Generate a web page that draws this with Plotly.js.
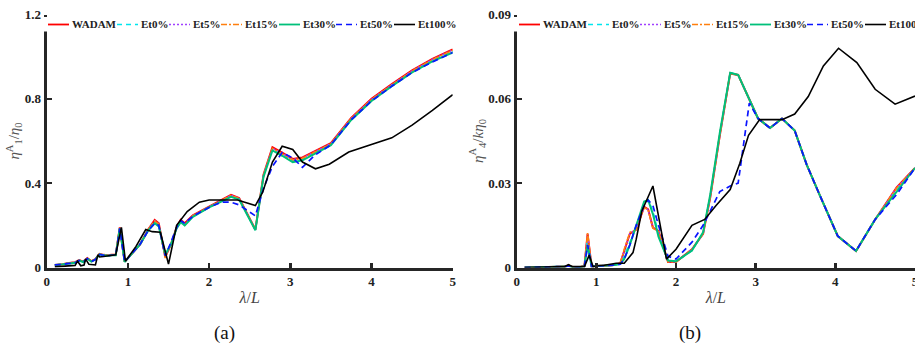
<!DOCTYPE html>
<html>
<head>
<meta charset="utf-8">
<script src="https://cdn.plot.ly/plotly-3.0.1.min.js"></script>
<style>html,body{margin:0;padding:0;background:#fff;}#chart{width:915px;height:352px;}</style>
</head>
<body>
<div id="chart"></div>
<script>
// ---------- data (a) heave-like response eta1A/eta0 ----------
const xA = [0.1,0.15,0.2,0.25,0.3,0.35,0.4,0.45,0.5,0.55,0.6,0.65,0.7,0.75,0.8,0.85,0.9,0.96,1.05,1.15,1.25,1.33,1.38,1.46,1.53,1.6,1.65,1.7,1.8,2.0,2.15,2.27,2.37,2.57,2.67,2.78,2.9,3.03,3.15,3.3,3.5,3.75,4.0,4.25,4.5,4.75,5.0];
const wadamA = [0.012,0.013,0.016,0.02,0.022,0.025,0.035,0.028,0.045,0.03,0.04,0.065,0.06,0.058,0.06,0.06,0.19,0.028,0.066,0.11,0.18,0.225,0.21,0.05,0.11,0.19,0.226,0.21,0.248,0.29,0.32,0.345,0.33,0.18,0.44,0.57,0.545,0.515,0.522,0.55,0.59,0.71,0.8,0.87,0.935,0.99,1.035];
const et0A   = [0.012,0.012,0.015,0.019,0.021,0.023,0.034,0.027,0.043,0.029,0.039,0.063,0.059,0.057,0.059,0.059,0.187,0.027,0.066,0.11,0.177,0.215,0.2,0.058,0.11,0.187,0.218,0.205,0.242,0.287,0.315,0.338,0.325,0.178,0.435,0.56,0.535,0.505,0.512,0.543,0.583,0.703,0.793,0.863,0.928,0.982,1.025];
const et5A   = [0.012,0.013,0.016,0.02,0.022,0.025,0.035,0.028,0.045,0.03,0.04,0.065,0.06,0.058,0.06,0.06,0.19,0.028,0.066,0.11,0.18,0.222,0.208,0.05,0.11,0.19,0.224,0.208,0.246,0.289,0.318,0.343,0.328,0.18,0.438,0.566,0.542,0.512,0.52,0.548,0.588,0.708,0.798,0.868,0.933,0.988,1.032];
const et15A  = [0.012,0.013,0.016,0.02,0.022,0.025,0.035,0.028,0.045,0.03,0.04,0.065,0.06,0.058,0.06,0.06,0.19,0.028,0.066,0.11,0.18,0.22,0.205,0.045,0.11,0.19,0.22,0.2,0.245,0.288,0.317,0.342,0.327,0.18,0.437,0.565,0.54,0.51,0.518,0.546,0.586,0.706,0.796,0.866,0.931,0.986,1.03];
const et30A  = [0.012,0.012,0.015,0.018,0.02,0.022,0.033,0.026,0.042,0.028,0.038,0.062,0.058,0.056,0.058,0.058,0.185,0.027,0.066,0.11,0.175,0.21,0.195,0.06,0.11,0.185,0.215,0.2,0.24,0.285,0.312,0.335,0.322,0.177,0.43,0.555,0.53,0.5,0.508,0.54,0.58,0.7,0.79,0.86,0.925,0.978,1.02];
const et50A  = [0.012,0.012,0.015,0.018,0.02,0.022,0.033,0.026,0.042,0.028,0.038,0.062,0.058,0.056,0.058,0.058,0.185,0.027,0.066,0.11,0.175,0.21,0.2,0.055,0.12,0.19,0.222,0.21,0.243,0.285,0.31,0.31,0.297,0.245,0.375,0.48,0.545,0.52,0.475,0.532,0.582,0.7,0.79,0.86,0.925,0.975,1.02];
const x100A  = [0.1,0.2,0.3,0.35,0.38,0.42,0.46,0.48,0.52,0.6,0.63,0.65,0.7,0.8,0.85,0.92,0.97,1.1,1.22,1.3,1.4,1.5,1.6,1.73,1.88,2.0,2.2,2.35,2.57,2.66,2.78,2.9,3.03,3.15,3.31,3.48,3.72,4.0,4.25,4.5,4.75,5.0];
const et100A = [0.003,0.005,0.008,0.01,0.03,0.008,0.012,0.04,0.015,0.012,0.06,0.05,0.052,0.055,0.06,0.19,0.03,0.1,0.18,0.17,0.167,0.016,0.2,0.265,0.31,0.32,0.32,0.32,0.294,0.357,0.5,0.575,0.56,0.5,0.468,0.49,0.548,0.582,0.615,0.675,0.745,0.82];

// ---------- data (b) pitch-like response eta4A/(k eta0) ----------
const xB = [0.1,0.2,0.3,0.4,0.5,0.6,0.65,0.7,0.8,0.85,0.89,0.94,1.0,1.1,1.2,1.3,1.35,1.42,1.5,1.6,1.65,1.71,1.78,1.9,2.0,2.1,2.2,2.34,2.43,2.55,2.68,2.78,2.92,3.03,3.18,3.33,3.49,3.64,3.8,4.03,4.26,4.5,4.77,5.0];
const wadamB = [0,0,0,0.0002,0.0003,0.0003,0.0008,0.0002,0.0002,0.0005,0.012,0.0004,0.0005,0.0006,0.0008,0.0015,0.006,0.012,0.0135,0.0216,0.0207,0.0142,0.013,0.002,0.002,0.0042,0.0065,0.012,0.025,0.047,0.069,0.0685,0.06,0.053,0.0496,0.053,0.0487,0.0366,0.026,0.0112,0.0059,0.0171,0.0285,0.0354];
const et0B   = [0,0,0,0.0002,0.0003,0.0003,0.0007,0.0002,0.0002,0.0004,0.011,0.0004,0.0005,0.0006,0.0008,0.0013,0.004,0.009,0.0145,0.023,0.024,0.02,0.012,0.0024,0.0021,0.004,0.006,0.0123,0.0255,0.0475,0.0693,0.0685,0.06,0.053,0.0496,0.053,0.0487,0.0366,0.026,0.0112,0.0059,0.0171,0.0278,0.0354];
const et5B   = [0,0,0,0.0002,0.0003,0.0003,0.0008,0.0002,0.0002,0.0005,0.012,0.0004,0.0005,0.0006,0.0008,0.0015,0.006,0.012,0.0135,0.0215,0.0206,0.0142,0.013,0.002,0.002,0.0042,0.0065,0.012,0.025,0.047,0.069,0.0685,0.06,0.053,0.0496,0.053,0.0487,0.0366,0.026,0.0112,0.0059,0.0171,0.0284,0.0354];
const et15B  = [0,0,0,0.0002,0.0003,0.0003,0.0009,0.0002,0.0002,0.0005,0.0122,0.0004,0.0005,0.0006,0.0008,0.0015,0.0065,0.0125,0.0135,0.0214,0.0205,0.014,0.0128,0.002,0.002,0.0042,0.0065,0.012,0.025,0.047,0.069,0.0685,0.06,0.053,0.0496,0.053,0.0487,0.0366,0.026,0.0112,0.0059,0.0171,0.0283,0.0354];
const et30B  = [0,0,0,0.0002,0.0003,0.0003,0.0006,0.0002,0.0002,0.0004,0.008,0.0004,0.0005,0.0006,0.0008,0.0012,0.003,0.008,0.015,0.0235,0.024,0.019,0.011,0.0025,0.0022,0.004,0.006,0.0125,0.026,0.048,0.0693,0.0685,0.06,0.053,0.0496,0.053,0.0487,0.0366,0.026,0.0112,0.0059,0.0171,0.027,0.0354];
const et50B  = [0,0,0,0.0002,0.0003,0.0003,0.0006,0.0002,0.0002,0.0004,0.008,0.0004,0.0005,0.0006,0.0008,0.0012,0.003,0.008,0.015,0.022,0.024,0.022,0.015,0.004,0.003,0.006,0.009,0.015,0.02,0.027,0.029,0.03,0.0585,0.053,0.0496,0.053,0.0487,0.0366,0.026,0.0112,0.0059,0.0171,0.026,0.0354];
const x100B  = [0.1,0.3,0.5,0.6,0.65,0.7,0.85,0.91,0.96,1.0,1.1,1.25,1.35,1.46,1.5,1.57,1.71,1.88,2.0,2.2,2.36,2.5,2.68,2.8,2.91,3.05,3.33,3.49,3.66,3.85,4.04,4.27,4.5,4.75,5.0];
const et100B = [0,0.0002,0.0002,0.0003,0.001,0.0003,0.0003,0.0044,0.0002,0.0006,0.0008,0.0015,0.0015,0.0053,0.01,0.02,0.029,0.003,0.0065,0.015,0.0171,0.022,0.0277,0.037,0.047,0.0526,0.0526,0.0546,0.0608,0.0717,0.078,0.0729,0.0634,0.0581,0.061];

// ---------- series labels & tick labels ----------
const seriesNames = ['WADAM','Et0%','Et5%','Et15%','Et30%','Et50%','Et100%'];
const xTickVals = [0,1,2,3,4,5];
const xTickText = ['0','1','2','3','4','5'];
const yTickValsA = [0,0.4,0.8,1.2];
const yTickTextA = ['0','0.4','0.8','1.2'];
const yTickValsB = [0,0.03,0.06,0.09];
const yTickTextB = ['0','0.03','0.06','0.09'];
const panelLabels = ['(a)','(b)'];

// ---------- styles ----------
const colors = ['#ff0000','#00e5ee','#a040ff','#ff7f0e','#00c07a','#0a14ff','#000000'];
const dashes = ['solid','5px,4px','2px,2px','6px,2px,2px,2px','solid','6px,4px','solid'];
const widths = [2,1.6,1.4,1.6,2,1.7,1.6];

const W = 915, H = 352;
const px = v => v / W, py = v => 1 - v / H;
const bold = arr => arr.map(t => '<b>' + t + '</b>');

const setA = [[xA,wadamA],[xA,et0A],[xA,et5A],[xA,et15A],[xA,et30A],[xA,et50A],[x100A,et100A]];
const setB = [[xB,wadamB],[xB,et0B],[xB,et5B],[xB,et15B],[xB,et30B],[xB,et50B],[x100B,et100B]];

const traces = [];
setA.forEach((s,i)=>traces.push({x:s[0],y:s[1],type:'scatter',mode:'lines',name:seriesNames[i],
  line:{color:colors[i],width:widths[i],dash:dashes[i]},xaxis:'x',yaxis:'y',showlegend:false}));
setB.forEach((s,i)=>traces.push({x:s[0],y:s[1],type:'scatter',mode:'lines',name:seriesNames[i],
  line:{color:colors[i],width:widths[i],dash:dashes[i]},xaxis:'x2',yaxis:'y2',showlegend:false}));

const serif = 'Liberation Serif, Times New Roman, serif';
const axisCommon = {
  showline:true, linecolor:'#262626', linewidth:3, ticks:'inside', ticklen:5, tickwidth:2.5,
  tickcolor:'#262626', showgrid:false, zeroline:false, tickmode:'array', ticklabeloverflow:'allow',
  tickfont:{family:serif, size:13, color:'#222'}
};
const yDom = [1-267.5/H, 1-14.5/H];

// custom horizontal legends (one per panel)
const shapes = [], annotations = [];
const legendOffsets = [0,69,121,173,231,288,346];
[48, 519].forEach((base,pi)=>{
  shapes.push({type:'rect',xref:'paper',yref:'paper',x0:px(base-5),x1:px(base+420),y0:py(31.5),y1:py(17),
    fillcolor:'#ffffff',line:{width:0},layer:'above'});
  seriesNames.forEach((nm,i)=>{
    const x0 = base + legendOffsets[i];
    shapes.push({type:'line',xref:'paper',yref:'paper',x0:px(x0),x1:px(x0+21),y0:py(24.5),y1:py(24.5),
      line:{color:colors[i],width:Math.min(widths[i],1.8),dash:dashes[i]},layer:'above'});
    annotations.push({xref:'paper',yref:'paper',x:px(x0+22),y:py(24.5),xanchor:'left',yanchor:'middle',
      text:'<b>'+nm+'</b>',showarrow:false,font:{family:serif,size:11,color:'#222'}});
  });
});
annotations.push({xref:'paper',yref:'paper',x:px(224),y:py(333),xanchor:'center',yanchor:'middle',
  text:panelLabels[0],showarrow:false,font:{family:serif,size:19,color:'#111'}});
annotations.push({xref:'paper',yref:'paper',x:px(690),y:py(333),xanchor:'center',yanchor:'middle',
  text:panelLabels[1],showarrow:false,font:{family:serif,size:19,color:'#111'}});

const layout = {
  width:W, height:H, margin:{l:0,r:0,t:0,b:0}, paper_bgcolor:'#fff', plot_bgcolor:'#fff',
  showlegend:false,
  xaxis:Object.assign({}, axisCommon, {domain:[46.7/W, 452.7/W], range:[0,5], tickvals:xTickVals, ticktext:bold(xTickText), anchor:'y',
    title:{text:'<i>λ</i>/<i>L</i>', font:{family:serif,size:16,color:'#444'}, standoff:4}}),
  yaxis:Object.assign({}, axisCommon, {domain:yDom, range:[0,1.2], tickvals:yTickValsA, ticktext:bold(yTickTextA), anchor:'x',
    title:{text:'<i>η</i><sup>A</sup><sub>1</sub>/<i>η</i><sub>0</sub>', font:{family:serif,size:15,color:'#555'}, standoff:2}}),
  xaxis2:Object.assign({}, axisCommon, {domain:[516.7/W, 1], range:[0,5], tickvals:xTickVals, ticktext:bold(xTickText), anchor:'y2',
    title:{text:'<i>λ</i>/<i>L</i>', font:{family:serif,size:16,color:'#444'}, standoff:4}}),
  yaxis2:Object.assign({}, axisCommon, {domain:yDom, range:[0,0.09], tickvals:yTickValsB, ticktext:bold(yTickTextB), anchor:'x2',
    title:{text:'<i>η</i><sup>A</sup><sub>4</sub>/<i>kη</i><sub>0</sub>', font:{family:serif,size:15,color:'#555'}, standoff:2}}),
  shapes:shapes, annotations:annotations
};

Plotly.newPlot('chart', traces, layout, {displayModeBar:false, staticPlot:true});
</script>
</body>
</html>
